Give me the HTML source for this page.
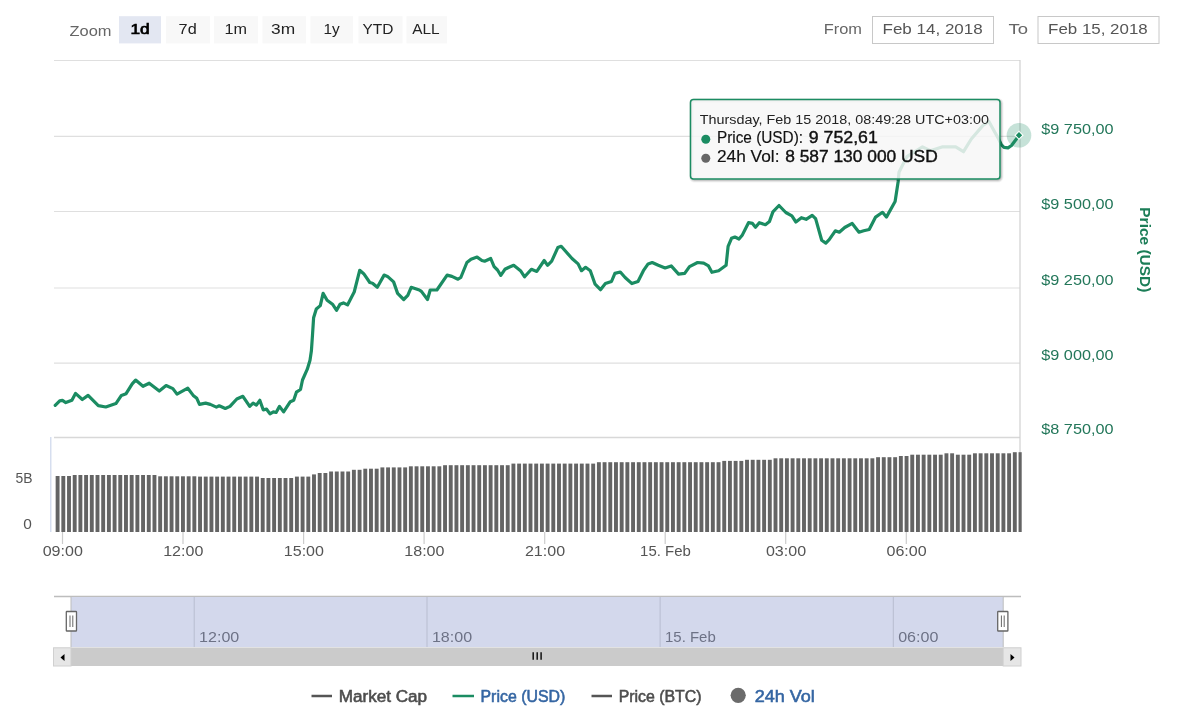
<!DOCTYPE html>
<html><head><meta charset="utf-8">
<style>
html,body{margin:0;padding:0;background:#fff;width:1180px;height:717px;overflow:hidden;}
svg{display:block;font-family:"Liberation Sans", sans-serif;will-change:transform;}
</style></head><body>
<svg width="1180" height="717" viewBox="0 0 1180 717">
<rect x="0" y="0" width="1180" height="717" fill="#fff"/>
<text x="69.5" y="35.5" font-size="15" fill="#666" textLength="42.0" lengthAdjust="spacingAndGlyphs">Zoom</text>
<rect x="119" y="16.2" width="42" height="27.2" fill="#e3e7f2"/>
<text x="130.5" y="33.5" font-size="15" fill="#000" textLength="19.2" lengthAdjust="spacingAndGlyphs" stroke="#000" stroke-width="0.7">1d</text>
<rect x="166" y="16.2" width="44" height="27.2" fill="#f8f8f8"/>
<text x="178.6" y="33.5" font-size="15" fill="#222" textLength="18.1" lengthAdjust="spacingAndGlyphs">7d</text>
<rect x="214" y="16.2" width="44" height="27.2" fill="#f8f8f8"/>
<text x="224.6" y="33.5" font-size="15" fill="#222" textLength="22.5" lengthAdjust="spacingAndGlyphs">1m</text>
<rect x="262.5" y="16.2" width="43.5" height="27.2" fill="#f8f8f8"/>
<text x="271.0" y="33.5" font-size="15" fill="#222" textLength="24.1" lengthAdjust="spacingAndGlyphs">3m</text>
<rect x="310.5" y="16.2" width="42.5" height="27.2" fill="#f8f8f8"/>
<text x="323.5" y="33.5" font-size="15" fill="#222" textLength="16.2" lengthAdjust="spacingAndGlyphs">1y</text>
<rect x="358.5" y="16.2" width="44.0" height="27.2" fill="#f8f8f8"/>
<text x="362.5" y="33.5" font-size="15" fill="#222" textLength="30.9" lengthAdjust="spacingAndGlyphs">YTD</text>
<rect x="406.5" y="16.2" width="40.5" height="27.2" fill="#f8f8f8"/>
<text x="412.3" y="33.5" font-size="15" fill="#222" textLength="27.4" lengthAdjust="spacingAndGlyphs">ALL</text>
<text x="823.7" y="33.8" font-size="15" fill="#666" textLength="38.2" lengthAdjust="spacingAndGlyphs">From</text>
<rect x="872.5" y="16.5" width="121" height="27" fill="#fff" stroke="#c8c8c8" stroke-width="1"/>
<text x="882.5" y="33.8" font-size="15" fill="#555" textLength="100.2" lengthAdjust="spacingAndGlyphs">Feb 14, 2018</text>
<text x="1008.6" y="34" font-size="15" fill="#666" textLength="19.5" lengthAdjust="spacingAndGlyphs">To</text>
<rect x="1038" y="16.5" width="121" height="27" fill="#fff" stroke="#c8c8c8" stroke-width="1"/>
<text x="1048.1" y="34" font-size="15" fill="#555" textLength="99.6" lengthAdjust="spacingAndGlyphs">Feb 15, 2018</text>
<g stroke="#dfdfdf" stroke-width="1.2">
<line x1="54" y1="60.5" x2="1020" y2="60.5"/>
<line x1="54" y1="136.4" x2="1020" y2="136.4"/>
<line x1="54" y1="211.5" x2="1020" y2="211.5"/>
<line x1="54" y1="288" x2="1020" y2="288"/>
<line x1="54" y1="363.2" x2="1020" y2="363.2"/>
<line x1="54" y1="437.4" x2="1020" y2="437.4" stroke="#d8d8d8" stroke-width="1.5"/>
</g>
<line x1="1020" y1="60" x2="1020" y2="532" stroke="#d0d0d0" stroke-width="1.2"/>
<line x1="50.8" y1="437" x2="50.8" y2="532" stroke="#ccd6eb" stroke-width="1.2"/>
<g fill="#646464"><rect x="55.65" y="476" width="3.90" height="56.0"/>
<rect x="61.35" y="476" width="3.90" height="56.0"/>
<rect x="67.05" y="476" width="3.90" height="56.0"/>
<rect x="72.74" y="475" width="3.90" height="57.0"/>
<rect x="78.44" y="475" width="3.90" height="57.0"/>
<rect x="84.14" y="475" width="3.90" height="57.0"/>
<rect x="89.84" y="475" width="3.90" height="57.0"/>
<rect x="95.53" y="475" width="3.90" height="57.0"/>
<rect x="101.23" y="475" width="3.90" height="57.0"/>
<rect x="106.93" y="475" width="3.90" height="57.0"/>
<rect x="112.63" y="475" width="3.90" height="57.0"/>
<rect x="118.32" y="475" width="3.90" height="57.0"/>
<rect x="124.02" y="475" width="3.90" height="57.0"/>
<rect x="129.72" y="475" width="3.90" height="57.0"/>
<rect x="135.42" y="475" width="3.90" height="57.0"/>
<rect x="141.11" y="475" width="3.90" height="57.0"/>
<rect x="146.81" y="475" width="3.90" height="57.0"/>
<rect x="152.51" y="475" width="3.90" height="57.0"/>
<rect x="158.21" y="476.3" width="3.90" height="55.7"/>
<rect x="163.91" y="476.3" width="3.90" height="55.7"/>
<rect x="169.60" y="476.3" width="3.90" height="55.7"/>
<rect x="175.30" y="476.3" width="3.90" height="55.7"/>
<rect x="181.00" y="476.3" width="3.90" height="55.7"/>
<rect x="186.70" y="476.3" width="3.90" height="55.7"/>
<rect x="192.39" y="476.3" width="3.90" height="55.7"/>
<rect x="198.09" y="476.6" width="3.90" height="55.4"/>
<rect x="203.79" y="476.6" width="3.90" height="55.4"/>
<rect x="209.49" y="476.6" width="3.90" height="55.4"/>
<rect x="215.18" y="476.6" width="3.90" height="55.4"/>
<rect x="220.88" y="476.6" width="3.90" height="55.4"/>
<rect x="226.58" y="476.6" width="3.90" height="55.4"/>
<rect x="232.28" y="476.6" width="3.90" height="55.4"/>
<rect x="237.97" y="476.6" width="3.90" height="55.4"/>
<rect x="243.67" y="476.6" width="3.90" height="55.4"/>
<rect x="249.37" y="476.6" width="3.90" height="55.4"/>
<rect x="255.07" y="476.6" width="3.90" height="55.4"/>
<rect x="260.76" y="478" width="3.90" height="54.0"/>
<rect x="266.46" y="478" width="3.90" height="54.0"/>
<rect x="272.16" y="478" width="3.90" height="54.0"/>
<rect x="277.86" y="478" width="3.90" height="54.0"/>
<rect x="283.56" y="478" width="3.90" height="54.0"/>
<rect x="289.25" y="478" width="3.90" height="54.0"/>
<rect x="294.95" y="476.6" width="3.90" height="55.4"/>
<rect x="300.65" y="476.6" width="3.90" height="55.4"/>
<rect x="306.35" y="476.6" width="3.90" height="55.4"/>
<rect x="312.04" y="474.4" width="3.90" height="57.6"/>
<rect x="317.74" y="473" width="3.90" height="59.0"/>
<rect x="323.44" y="473" width="3.90" height="59.0"/>
<rect x="329.14" y="471.5" width="3.90" height="60.5"/>
<rect x="334.83" y="471.5" width="3.90" height="60.5"/>
<rect x="340.53" y="471.5" width="3.90" height="60.5"/>
<rect x="346.23" y="471.5" width="3.90" height="60.5"/>
<rect x="351.93" y="469.8" width="3.90" height="62.2"/>
<rect x="357.62" y="469.8" width="3.90" height="62.2"/>
<rect x="363.32" y="468.7" width="3.90" height="63.3"/>
<rect x="369.02" y="468.7" width="3.90" height="63.3"/>
<rect x="374.72" y="468.7" width="3.90" height="63.3"/>
<rect x="380.42" y="467.4" width="3.90" height="64.6"/>
<rect x="386.11" y="467.4" width="3.90" height="64.6"/>
<rect x="391.81" y="467.4" width="3.90" height="64.6"/>
<rect x="397.51" y="467.4" width="3.90" height="64.6"/>
<rect x="403.21" y="467.4" width="3.90" height="64.6"/>
<rect x="408.90" y="466.3" width="3.90" height="65.7"/>
<rect x="414.60" y="466.3" width="3.90" height="65.7"/>
<rect x="420.30" y="466.3" width="3.90" height="65.7"/>
<rect x="426.00" y="466.3" width="3.90" height="65.7"/>
<rect x="431.69" y="466.3" width="3.90" height="65.7"/>
<rect x="437.39" y="466.3" width="3.90" height="65.7"/>
<rect x="443.09" y="465.2" width="3.90" height="66.8"/>
<rect x="448.79" y="465.2" width="3.90" height="66.8"/>
<rect x="454.48" y="465.2" width="3.90" height="66.8"/>
<rect x="460.18" y="465.2" width="3.90" height="66.8"/>
<rect x="465.88" y="465.2" width="3.90" height="66.8"/>
<rect x="471.58" y="465.2" width="3.90" height="66.8"/>
<rect x="477.27" y="465.2" width="3.90" height="66.8"/>
<rect x="482.97" y="465.2" width="3.90" height="66.8"/>
<rect x="488.67" y="465.2" width="3.90" height="66.8"/>
<rect x="494.37" y="465.2" width="3.90" height="66.8"/>
<rect x="500.07" y="465.2" width="3.90" height="66.8"/>
<rect x="505.76" y="465.2" width="3.90" height="66.8"/>
<rect x="511.46" y="463.6" width="3.90" height="68.4"/>
<rect x="517.16" y="463.6" width="3.90" height="68.4"/>
<rect x="522.86" y="463.6" width="3.90" height="68.4"/>
<rect x="528.55" y="463.6" width="3.90" height="68.4"/>
<rect x="534.25" y="463.6" width="3.90" height="68.4"/>
<rect x="539.95" y="463.6" width="3.90" height="68.4"/>
<rect x="545.65" y="463.6" width="3.90" height="68.4"/>
<rect x="551.34" y="463.6" width="3.90" height="68.4"/>
<rect x="557.04" y="463.6" width="3.90" height="68.4"/>
<rect x="562.74" y="463.6" width="3.90" height="68.4"/>
<rect x="568.44" y="463.6" width="3.90" height="68.4"/>
<rect x="574.13" y="463.6" width="3.90" height="68.4"/>
<rect x="579.83" y="463.6" width="3.90" height="68.4"/>
<rect x="585.53" y="463.6" width="3.90" height="68.4"/>
<rect x="591.23" y="463.6" width="3.90" height="68.4"/>
<rect x="596.93" y="462.2" width="3.90" height="69.8"/>
<rect x="602.62" y="462.2" width="3.90" height="69.8"/>
<rect x="608.32" y="462.2" width="3.90" height="69.8"/>
<rect x="614.02" y="462.2" width="3.90" height="69.8"/>
<rect x="619.72" y="462.2" width="3.90" height="69.8"/>
<rect x="625.41" y="462.2" width="3.90" height="69.8"/>
<rect x="631.11" y="462.2" width="3.90" height="69.8"/>
<rect x="636.81" y="462.2" width="3.90" height="69.8"/>
<rect x="642.51" y="462.2" width="3.90" height="69.8"/>
<rect x="648.20" y="462.2" width="3.90" height="69.8"/>
<rect x="653.90" y="462.2" width="3.90" height="69.8"/>
<rect x="659.60" y="462.2" width="3.90" height="69.8"/>
<rect x="665.30" y="462.2" width="3.90" height="69.8"/>
<rect x="670.99" y="462.2" width="3.90" height="69.8"/>
<rect x="676.69" y="462.2" width="3.90" height="69.8"/>
<rect x="682.39" y="462.2" width="3.90" height="69.8"/>
<rect x="688.09" y="462.2" width="3.90" height="69.8"/>
<rect x="693.78" y="462.2" width="3.90" height="69.8"/>
<rect x="699.48" y="462.2" width="3.90" height="69.8"/>
<rect x="705.18" y="462.2" width="3.90" height="69.8"/>
<rect x="710.88" y="462.2" width="3.90" height="69.8"/>
<rect x="716.58" y="462.2" width="3.90" height="69.8"/>
<rect x="722.27" y="460.9" width="3.90" height="71.1"/>
<rect x="727.97" y="460.9" width="3.90" height="71.1"/>
<rect x="733.67" y="460.9" width="3.90" height="71.1"/>
<rect x="739.37" y="460.9" width="3.90" height="71.1"/>
<rect x="745.06" y="459.8" width="3.90" height="72.2"/>
<rect x="750.76" y="459.8" width="3.90" height="72.2"/>
<rect x="756.46" y="459.8" width="3.90" height="72.2"/>
<rect x="762.16" y="459.8" width="3.90" height="72.2"/>
<rect x="767.85" y="459.8" width="3.90" height="72.2"/>
<rect x="773.55" y="458.3" width="3.90" height="73.7"/>
<rect x="779.25" y="458.3" width="3.90" height="73.7"/>
<rect x="784.95" y="458.3" width="3.90" height="73.7"/>
<rect x="790.64" y="458.3" width="3.90" height="73.7"/>
<rect x="796.34" y="458.3" width="3.90" height="73.7"/>
<rect x="802.04" y="458.3" width="3.90" height="73.7"/>
<rect x="807.74" y="458.3" width="3.90" height="73.7"/>
<rect x="813.44" y="458.3" width="3.90" height="73.7"/>
<rect x="819.13" y="458.3" width="3.90" height="73.7"/>
<rect x="824.83" y="458.3" width="3.90" height="73.7"/>
<rect x="830.53" y="458.3" width="3.90" height="73.7"/>
<rect x="836.23" y="458.3" width="3.90" height="73.7"/>
<rect x="841.92" y="458.3" width="3.90" height="73.7"/>
<rect x="847.62" y="458.3" width="3.90" height="73.7"/>
<rect x="853.32" y="458.3" width="3.90" height="73.7"/>
<rect x="859.02" y="458.3" width="3.90" height="73.7"/>
<rect x="864.71" y="458.3" width="3.90" height="73.7"/>
<rect x="870.41" y="458.3" width="3.90" height="73.7"/>
<rect x="876.11" y="457.2" width="3.90" height="74.8"/>
<rect x="881.81" y="457.2" width="3.90" height="74.8"/>
<rect x="887.50" y="457.2" width="3.90" height="74.8"/>
<rect x="893.20" y="457.2" width="3.90" height="74.8"/>
<rect x="898.90" y="456" width="3.90" height="76.0"/>
<rect x="904.60" y="456" width="3.90" height="76.0"/>
<rect x="910.29" y="454.7" width="3.90" height="77.3"/>
<rect x="915.99" y="454.7" width="3.90" height="77.3"/>
<rect x="921.69" y="454.7" width="3.90" height="77.3"/>
<rect x="927.39" y="454.7" width="3.90" height="77.3"/>
<rect x="933.09" y="454.7" width="3.90" height="77.3"/>
<rect x="938.78" y="454.7" width="3.90" height="77.3"/>
<rect x="944.48" y="453.3" width="3.90" height="78.7"/>
<rect x="950.18" y="453.3" width="3.90" height="78.7"/>
<rect x="955.88" y="454.7" width="3.90" height="77.3"/>
<rect x="961.57" y="454.7" width="3.90" height="77.3"/>
<rect x="967.27" y="454.7" width="3.90" height="77.3"/>
<rect x="972.97" y="453.3" width="3.90" height="78.7"/>
<rect x="978.67" y="453.3" width="3.90" height="78.7"/>
<rect x="984.36" y="453.3" width="3.90" height="78.7"/>
<rect x="990.06" y="453.3" width="3.90" height="78.7"/>
<rect x="995.76" y="453.3" width="3.90" height="78.7"/>
<rect x="1001.46" y="453.3" width="3.90" height="78.7"/>
<rect x="1007.15" y="453.3" width="3.90" height="78.7"/>
<rect x="1012.85" y="452.2" width="3.90" height="79.8"/>
<rect x="1018.55" y="452.2" width="3.15" height="79.8"/></g>
<g stroke="#cccccc" stroke-width="1.2">
<line x1="62.5" y1="532" x2="62.5" y2="544"/>
<line x1="183.0" y1="532" x2="183.0" y2="544"/>
<line x1="303.6" y1="532" x2="303.6" y2="544"/>
<line x1="424.1" y1="532" x2="424.1" y2="544"/>
<line x1="544.7" y1="532" x2="544.7" y2="544"/>
<line x1="665.2" y1="532" x2="665.2" y2="544"/>
<line x1="785.7" y1="532" x2="785.7" y2="544"/>
<line x1="906.3" y1="532" x2="906.3" y2="544"/>
</g>
<text x="42.7" y="556.4" font-size="14" fill="#555" textLength="40.2" lengthAdjust="spacingAndGlyphs">09:00</text>
<text x="163.2" y="556.4" font-size="14" fill="#555" textLength="40.2" lengthAdjust="spacingAndGlyphs">12:00</text>
<text x="283.8" y="556.4" font-size="14" fill="#555" textLength="40.2" lengthAdjust="spacingAndGlyphs">15:00</text>
<text x="404.3" y="556.4" font-size="14" fill="#555" textLength="40.2" lengthAdjust="spacingAndGlyphs">18:00</text>
<text x="524.9" y="556.4" font-size="14" fill="#555" textLength="40.2" lengthAdjust="spacingAndGlyphs">21:00</text>
<text x="640.1" y="556.4" font-size="14" fill="#555" textLength="50.7" lengthAdjust="spacingAndGlyphs">15. Feb</text>
<text x="765.9" y="556.4" font-size="14" fill="#555" textLength="40.2" lengthAdjust="spacingAndGlyphs">03:00</text>
<text x="886.5" y="556.4" font-size="14" fill="#555" textLength="40.2" lengthAdjust="spacingAndGlyphs">06:00</text>
<text x="15.5" y="482.9" font-size="14" fill="#555" textLength="17.0" lengthAdjust="spacingAndGlyphs">5B</text>
<text x="23.3" y="529.1" font-size="14" fill="#555" textLength="8.6" lengthAdjust="spacingAndGlyphs">0</text>
<text x="1041.3" y="133.9" font-size="14" fill="#23775a" textLength="72.2" lengthAdjust="spacingAndGlyphs">$9 750,00</text>
<text x="1041.3" y="208.6" font-size="14" fill="#23775a" textLength="72.2" lengthAdjust="spacingAndGlyphs">$9 500,00</text>
<text x="1041.3" y="284.9" font-size="14" fill="#23775a" textLength="72.2" lengthAdjust="spacingAndGlyphs">$9 250,00</text>
<text x="1041.3" y="360.2" font-size="14" fill="#23775a" textLength="72.2" lengthAdjust="spacingAndGlyphs">$9 000,00</text>
<text x="1041.3" y="434" font-size="14" fill="#23775a" textLength="72.2" lengthAdjust="spacingAndGlyphs">$8 750,00</text>
<g transform="translate(1139.5,208) rotate(90)"><text x="-0.7" y="0" font-size="15" fill="#1b7d57" font-weight="bold" textLength="85.0" lengthAdjust="spacingAndGlyphs">Price (USD)</text></g>
<path d="M55.2 405.3 L59.7 400.8 L62.4 400.4 L65.8 402.6 L71.9 400.2 L75.5 393.4 L82.3 399.5 L88.1 395.4 L98.3 405.6 L105.8 407.0 L115.9 403.6 L121.4 395.4 L126.1 393.7 L132.2 383.9 L135.6 380.1 L143.0 386.3 L149.2 383.2 L159.3 391.0 L166.1 385.5 L172.9 388.6 L177.0 394.1 L187.8 388.2 L193.2 395.4 L196.8 398.3 L199.5 404.4 L205.6 403.1 L210.3 404.4 L216.4 407.1 L219.2 405.8 L225.3 408.5 L230.0 406.4 L236.8 399.0 L242.9 396.3 L249.7 406.4 L253.1 403.1 L256.4 405.1 L259.8 400.3 L263.2 409.8 L266.6 409.2 L270.0 413.9 L273.4 411.9 L276.1 412.5 L279.5 406.4 L283.6 411.9 L290.3 401.7 L293.7 400.3 L296.4 392.2 L300.5 389.5 L302.5 380.0 L307.3 369.2 L310.0 360.3 L311.4 350.8 L312.5 335.0 L313.6 317.8 L316.3 309.0 L320.3 305.6 L323.1 293.4 L327.1 300.2 L332.5 304.2 L336.6 310.3 L340.0 304.2 L343.4 302.9 L347.5 304.9 L354.2 292.0 L359.7 270.3 L363.7 273.7 L369.8 282.5 L372.5 283.2 L377.3 287.3 L384.1 275.1 L387.5 276.4 L393.6 281.9 L397.6 293.4 L403.7 299.5 L407.8 295.4 L411.2 287.3 L419.3 290.0 L421.4 291.4 L427.5 299.5 L430.2 290.0 L436.9 290.0 L447.1 275.1 L451.9 276.4 L458.0 279.2 L460.8 277.5 L466.9 262.5 L471.0 259.2 L477.1 257.1 L481.9 260.5 L484.6 261.2 L490.7 258.5 L494.1 266.6 L497.5 270.0 L500.8 275.4 L504.9 269.3 L509.0 267.3 L513.7 265.3 L520.5 270.7 L524.6 276.8 L531.4 269.3 L536.8 271.4 L544.2 260.5 L547.6 265.3 L551.7 261.2 L557.8 247.6 L561.2 246.3 L572.0 258.5 L578.1 263.9 L581.5 270.7 L585.6 267.3 L590.3 270.7 L595.1 284.2 L600.5 289.7 L605.4 283.6 L611.5 281.5 L614.9 273.4 L620.3 272.0 L625.1 277.5 L631.9 283.6 L638.0 281.5 L643.4 270.7 L648.1 263.9 L652.2 262.5 L658.3 265.3 L665.1 268.0 L671.2 265.9 L678.6 274.1 L684.7 273.4 L689.5 266.6 L697.6 262.5 L703.7 263.2 L708.5 265.9 L711.9 272.3 L718.6 270.7 L726.1 265.3 L728.1 246.4 L731.5 238.3 L734.9 237.0 L739.0 239.0 L742.4 234.9 L748.5 222.7 L752.5 223.4 L755.5 227.2 L759.3 222.7 L765.4 224.7 L769.5 221.4 L772.9 211.9 L779.0 205.5 L785.8 212.5 L791.9 215.9 L795.9 222.0 L801.4 217.7 L806.1 219.3 L812.2 215.3 L815.6 218.6 L821.7 240.3 L825.8 243.1 L829.2 239.7 L835.3 230.8 L839.3 232.2 L844.7 227.5 L852.2 223.4 L859.0 232.2 L863.7 230.8 L869.2 229.5 L875.6 217.1 L882.5 212.3 L886.4 217.1 L895.1 201.5 L898.1 182.0 L899.0 172.2 L906.9 156.6 L922.5 146.9 L930.3 150.8 L942.0 146.9 L955.7 146.9 L963.5 151.7 L971.3 139.0 L983.0 125.4 L988.9 121.5 L998.6 139.0 L1001.5 144.9 L1004.0 147.3 L1008.0 147.8 L1011.5 145.5 L1014.5 141.5 L1019.0 135.5" fill="none" stroke="#1b8c62" stroke-width="3.2" stroke-linejoin="round" stroke-linecap="round"/>
<rect x="691.5" y="100.5" width="309.5" height="79.5" rx="3" fill="none" stroke="#000" stroke-opacity="0.05" stroke-width="5"/>
<rect x="691.5" y="100.5" width="309.5" height="79.5" rx="3" fill="none" stroke="#000" stroke-opacity="0.1" stroke-width="3"/>
<rect x="691.5" y="100.5" width="309.5" height="79.5" rx="3" fill="none" stroke="#000" stroke-opacity="0.15" stroke-width="1"/>
<rect x="690.5" y="99.5" width="309.5" height="79.5" rx="3" fill="rgba(247,247,247,0.85)" stroke="#1b8c62" stroke-width="1.5"/>
<text x="699.8" y="124.4" font-size="13" fill="#222" textLength="289.1" lengthAdjust="spacingAndGlyphs">Thursday, Feb 15 2018, 08:49:28 UTC+03:00</text>
<circle cx="705.8" cy="139.2" r="4.5" fill="#1b8c62"/>
<text x="716.9" y="143.4" font-size="16" fill="#111" textLength="86.2" lengthAdjust="spacingAndGlyphs" stroke="#111" stroke-width="0.15">Price (USD):</text>
<text x="808.8" y="143.4" font-size="16" fill="#111" textLength="69.0" lengthAdjust="spacingAndGlyphs" stroke="#111" stroke-width="0.4">9 752,61</text>
<circle cx="705.8" cy="158.3" r="4.5" fill="#666"/>
<text x="716.9" y="162.3" font-size="16" fill="#111" textLength="62.6" lengthAdjust="spacingAndGlyphs" stroke="#111" stroke-width="0.15">24h Vol:</text>
<text x="785.2" y="162.3" font-size="16" fill="#111" textLength="152.5" lengthAdjust="spacingAndGlyphs" stroke="#111" stroke-width="0.4">8 587 130 000 USD</text>
<circle cx="1019" cy="135.3" r="12.3" fill="#1b8c62" fill-opacity="0.25"/>
<rect x="1016.2" y="132.5" width="5.6" height="5.6" fill="#1b8c62" stroke="#fff" stroke-width="1.1" transform="rotate(45 1019 135.3)"/>
<line x1="54" y1="596.5" x2="1021" y2="596.5" stroke="#bdbdbd" stroke-width="1.5"/>
<rect x="71" y="597" width="932.2" height="50" fill="#d3d8ec"/>
<g stroke="#b8bdd0" stroke-width="1">
<line x1="194.2" y1="597" x2="194.2" y2="647"/>
<line x1="427" y1="597" x2="427" y2="647"/>
<line x1="660.1" y1="597" x2="660.1" y2="647"/>
<line x1="893.3" y1="597" x2="893.3" y2="647"/>
</g>
<text x="199.1" y="641.5" font-size="14" fill="#6d7286" textLength="40.2" lengthAdjust="spacingAndGlyphs">12:00</text>
<text x="431.9" y="641.5" font-size="14" fill="#6d7286" textLength="40.2" lengthAdjust="spacingAndGlyphs">18:00</text>
<text x="665.0" y="641.5" font-size="14" fill="#6d7286" textLength="50.7" lengthAdjust="spacingAndGlyphs">15. Feb</text>
<text x="898.2" y="641.5" font-size="14" fill="#6d7286" textLength="40.2" lengthAdjust="spacingAndGlyphs">06:00</text>
<line x1="71" y1="597" x2="71" y2="647" stroke="#bdbdbd" stroke-width="1"/>
<line x1="1003.2" y1="597" x2="1003.2" y2="647" stroke="#bdbdbd" stroke-width="1"/>
<rect x="66.3" y="611.5" width="10.2" height="19.5" rx="0.6" fill="#fff" stroke="#666" stroke-width="1.3"/>
<line x1="70.0" y1="615.5" x2="70.0" y2="627" stroke="#666" stroke-width="1"/>
<line x1="72.8" y1="615.5" x2="72.8" y2="627" stroke="#666" stroke-width="1"/>
<rect x="997.7" y="611.5" width="10.2" height="19.5" rx="0.6" fill="#fff" stroke="#666" stroke-width="1.3"/>
<line x1="1001.4" y1="615.5" x2="1001.4" y2="627" stroke="#666" stroke-width="1"/>
<line x1="1004.2" y1="615.5" x2="1004.2" y2="627" stroke="#666" stroke-width="1"/>
<rect x="53.5" y="647.5" width="967.5" height="18.5" fill="#f2f2f2"/>
<rect x="71" y="647.5" width="932.2" height="18.5" fill="#cbcbcb"/>
<rect x="53.5" y="647.8" width="17.5" height="18.2" fill="#e6e6e6" stroke="#d0d0d0" stroke-width="1"/>
<rect x="1003.2" y="647.8" width="17.8" height="18.2" fill="#e6e6e6" stroke="#d0d0d0" stroke-width="1"/>
<path d="M60.5 657.5 L64.5 654 L64.5 661 Z" fill="#000"/>
<path d="M1014.5 657.5 L1010.5 654 L1010.5 661 Z" fill="#000"/>
<g stroke="#111" stroke-width="1.5"><line x1="533.2" y1="652.2" x2="533.2" y2="659.8"/><line x1="537.2" y1="652.2" x2="537.2" y2="659.8"/><line x1="541.1" y1="652.2" x2="541.1" y2="659.8"/></g>
<line x1="311.5" y1="696" x2="332" y2="696" stroke="#555" stroke-width="2.5"/>
<text x="338.7" y="701.7" font-size="16" fill="#4d4d4d" textLength="88.4" lengthAdjust="spacingAndGlyphs" stroke="#4d4d4d" stroke-width="0.55">Market Cap</text>
<line x1="452.5" y1="696" x2="474" y2="696" stroke="#1b8c62" stroke-width="2.5"/>
<text x="480.5" y="701.7" font-size="16" fill="#3566a3" textLength="84.8" lengthAdjust="spacingAndGlyphs" stroke="#3566a3" stroke-width="0.55">Price (USD)</text>
<line x1="591.5" y1="696" x2="612" y2="696" stroke="#555" stroke-width="2.5"/>
<text x="618.7" y="701.7" font-size="16" fill="#4d4d4d" textLength="82.8" lengthAdjust="spacingAndGlyphs" stroke="#4d4d4d" stroke-width="0.55">Price (BTC)</text>
<circle cx="738.2" cy="695.3" r="7.6" fill="#6b6b6b"/>
<text x="754.7" y="701.7" font-size="16" fill="#3566a3" textLength="60.0" lengthAdjust="spacingAndGlyphs" stroke="#3566a3" stroke-width="0.55">24h Vol</text>
</svg>
</body></html>
